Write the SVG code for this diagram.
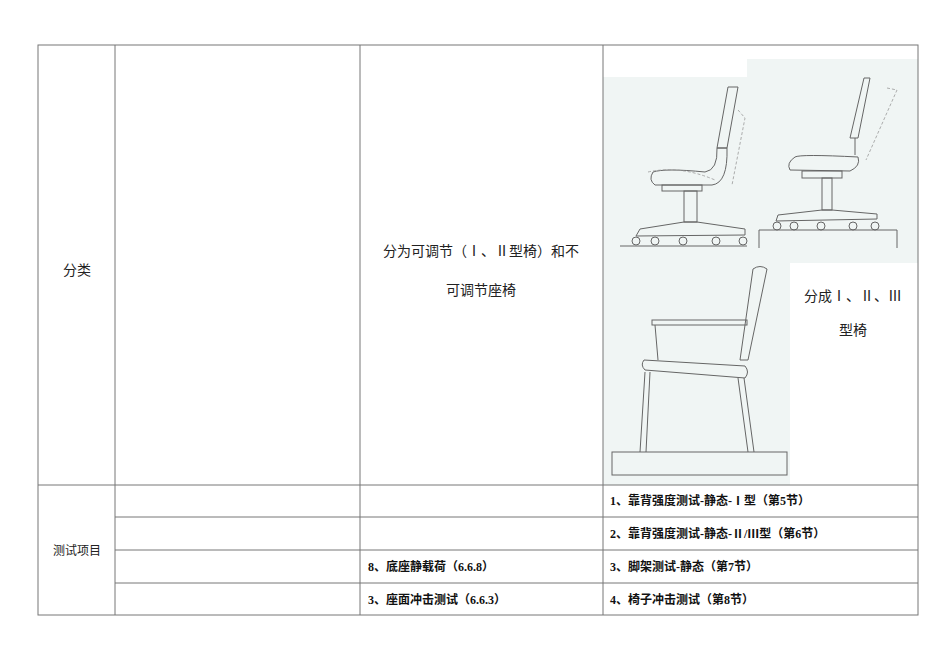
<svg xmlns="http://www.w3.org/2000/svg" width="950" height="672" viewBox="0 0 950 672">
<style>
.g{stroke:#777;stroke-width:1;fill:none}
.t{font-family:"Liberation Serif","Noto Sans CJK SC",serif;font-size:14px;fill:#222}
.s{font-family:"Liberation Serif","Noto Sans CJK SC",serif;font-size:12px;fill:#111;font-weight:bold}
.c{stroke:#666;stroke-width:1;fill:none}
.d{stroke:#999;stroke-width:0.8;fill:none;stroke-dasharray:3 2}
</style>
<rect width="950" height="672" fill="#fff"/>
<g id="pictures">
<rect x="603" y="77" width="144" height="171" fill="#f0f5f4"/>
<rect x="747" y="59" width="171" height="204" fill="#f0f5f4"/>
<rect x="603" y="248" width="187" height="237" fill="#f0f5f4"/>
<g id="chair1">
<path class="c" d="M728,87 L738,87 L727,148 L717,148 Z"/>
<path class="d" d="M738,110 L745,118 L732,185"/>
<path class="c" d="M653,172 Q665,168 705,172 Q718,170 717,148 L727,148 Q728,183 712,185 L655,185 Q648,180 653,172 Z"/>
<path class="d" d="M648,172 Q680,165 715,180"/>
<rect class="c" x="662" y="185" width="40" height="6"/>
<rect class="c" x="684" y="191" width="13" height="31"/>
<path class="c" d="M640,229 L684,222 L697,222 L745,229 L745,235 L636,236 Z"/>
<g class="c"><circle cx="636" cy="241" r="4"/><circle cx="655" cy="241" r="4"/><circle cx="683" cy="241" r="4"/><circle cx="716" cy="241" r="4"/><circle cx="743" cy="241" r="4"/></g>
<line class="c" x1="620" y1="246" x2="747" y2="246"/>
</g>
<g id="chair2">
<path class="c" d="M864,78 L870,78 L858,138 L850,138 Z"/>
<path class="c" d="M855,138 L855,155"/>
<path class="d" d="M887,88 L897,90 L866,160"/>
<path class="c" d="M795,157 Q800,154 858,157 Q861,166 850,171 L790,170 Q786,163 795,157 Z"/>
<rect class="c" x="802" y="171" width="40" height="7"/>
<rect class="c" x="822" y="178" width="10" height="32"/>
<path class="c" d="M778,215 L822,210 L832,210 L877,214 L877,219 L776,221 Z"/>
<g class="c"><circle cx="777" cy="226" r="4"/><circle cx="794" cy="226" r="4"/><circle cx="821" cy="226" r="4"/><circle cx="853" cy="226" r="4"/><circle cx="875" cy="226" r="4"/></g>
<path class="c" d="M759,248 L759,230 L897,230 L897,248"/>
</g>
<g id="chair3">
<path class="c" d="M753,269 Q760,264 767,269 L748,360 L740,360 Z"/>
<rect class="c" x="652" y="320" width="95" height="5"/>
<line class="c" x1="655" y1="325" x2="658" y2="360"/>
<path class="c" d="M644,360 Q640,365 645,370 L745,378 Q750,372 745,366 Z"/>
<path class="c" d="M645,372 L640,452 M650,372 L646,452 M738,378 L748,452 M744,378 L754,452"/>
<rect class="c" x="612" y="452" width="175" height="23"/>
</g>
</g>
<g id="grid" class="g">
<rect x="38" y="45" width="880" height="570"/>
<line x1="115" y1="45" x2="115" y2="615"/>
<line x1="360" y1="45" x2="360" y2="615"/>
<line x1="603" y1="45" x2="603" y2="615"/>
<line x1="38" y1="485" x2="918" y2="485"/>
<line x1="115" y1="517" x2="918" y2="517"/>
<line x1="115" y1="550" x2="918" y2="550"/>
<line x1="115" y1="583" x2="918" y2="583"/>
</g>
<g id="texts">
<text class="t" x="77" y="275" text-anchor="middle">分类</text>
<text class="t" x="481" y="256" text-anchor="middle">分为可调节（Ⅰ、Ⅱ型椅）和不</text>
<text class="t" x="481" y="295" text-anchor="middle">可调节座椅</text>
<text class="t" x="853" y="301" text-anchor="middle">分成Ⅰ、Ⅱ、Ⅲ</text>
<text class="t" x="853" y="335" text-anchor="middle">型椅</text>
<text class="t" x="77" y="555" text-anchor="middle" style="font-size:12px">测试项目</text>
<text class="s" x="610" y="505">1、靠背强度测试-静态-Ⅰ型（第5节）</text>
<text class="s" x="610" y="538">2、靠背强度测试-静态-Ⅱ/Ⅲ型（第6节）</text>
<text class="s" x="368" y="571">8、底座静载荷（6.6.8）</text>
<text class="s" x="610" y="571">3、脚架测试-静态（第7节）</text>
<text class="s" x="368" y="604">3、座面冲击测试（6.6.3）</text>
<text class="s" x="610" y="604">4、椅子冲击测试（第8节）</text>
</g>
</svg>
